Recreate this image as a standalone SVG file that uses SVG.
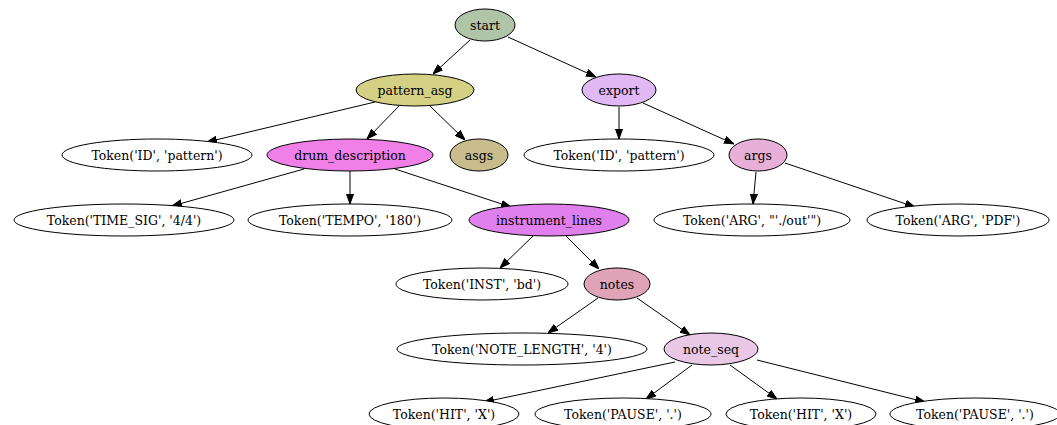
<svg xmlns="http://www.w3.org/2000/svg" width="1057" height="425" viewBox="0 0 1057 425">
<style>
.n ellipse{stroke:#000;stroke-width:1}
.n text{font-family:"DejaVu Serif",serif;font-size:12.5px;text-anchor:middle;dominant-baseline:central;fill:#000}
.e line{stroke:#000;stroke-width:1;marker-end:url(#ah)}
</style>
<defs>
<marker id="ah" markerUnits="userSpaceOnUse" markerWidth="10" markerHeight="8" refX="10" refY="3.5" orient="auto" viewBox="0 0 10 7">
<path d="M0,0 L10,3.5 L0,7 z" fill="#000" stroke="#000"/>
</marker>
</defs>
<rect width="1057" height="425" fill="#fff"/>
<g id="edges" class="e">
<line x1="470" y1="40" x2="433" y2="74"/>
<line x1="508" y1="37" x2="596" y2="77"/>
<line x1="375" y1="102" x2="207" y2="142"/>
<line x1="399" y1="106" x2="367" y2="139"/>
<line x1="430" y1="106" x2="465" y2="140"/>
<line x1="619" y1="107" x2="619" y2="139"/>
<line x1="643" y1="103" x2="734" y2="144"/>
<line x1="304" y1="169" x2="172" y2="206"/>
<line x1="350" y1="171" x2="350" y2="204"/>
<line x1="395" y1="169" x2="511" y2="207"/>
<line x1="756" y1="172" x2="753" y2="204"/>
<line x1="785" y1="163" x2="915" y2="207"/>
<line x1="533" y1="236" x2="500" y2="268"/>
<line x1="566" y1="236" x2="599" y2="269"/>
<line x1="598" y1="298" x2="548" y2="333"/>
<line x1="637" y1="298" x2="690" y2="335"/>
<line x1="675" y1="362" x2="484" y2="402"/>
<line x1="692" y1="365" x2="646" y2="399"/>
<line x1="730" y1="365" x2="777" y2="399"/>
<line x1="757" y1="360" x2="925" y2="402"/>
</g>
<g id="start" class="n"><ellipse cx="485" cy="25" rx="30" ry="16" fill="#b0c4a8"/><text x="485" y="25">start</text></g>
<g id="pattern_asg" class="n"><ellipse cx="415" cy="90" rx="59" ry="16" fill="#d4d184"/><text x="415" y="90">pattern_asg</text></g>
<g id="export" class="n"><ellipse cx="619" cy="90" rx="37" ry="16" fill="#e0b8f4"/><text x="619" y="90">export</text></g>
<g id="tok_id_1" class="n"><ellipse cx="157" cy="155" rx="95" ry="16" fill="#fff"/><text x="157" y="155">Token('ID', 'pattern')</text></g>
<g id="drum_description" class="n"><ellipse cx="350" cy="155" rx="83" ry="16" fill="#f080e8"/><text x="350" y="155">drum_description</text></g>
<g id="asgs" class="n"><ellipse cx="479" cy="155" rx="29" ry="16" fill="#c8bc8c"/><text x="479" y="155">asgs</text></g>
<g id="tok_id_2" class="n"><ellipse cx="619" cy="155" rx="95" ry="16" fill="#fff"/><text x="619" y="155">Token('ID', 'pattern')</text></g>
<g id="args" class="n"><ellipse cx="758" cy="155" rx="29" ry="16" fill="#e8b0d8"/><text x="758" y="155">args</text></g>
<g id="tok_timesig" class="n"><ellipse cx="124" cy="220" rx="110" ry="16" fill="#fff"/><text x="124" y="220">Token('TIME_SIG', '4/4')</text></g>
<g id="tok_tempo" class="n"><ellipse cx="350" cy="220" rx="102" ry="16" fill="#fff"/><text x="350" y="220">Token('TEMPO', '180')</text></g>
<g id="instrument_lines" class="n"><ellipse cx="549" cy="220" rx="80" ry="16" fill="#e080ec"/><text x="549" y="220">instrument_lines</text></g>
<g id="tok_arg_out" class="n"><ellipse cx="752" cy="220" rx="98" ry="16" fill="#fff"/><text x="752" y="220">Token('ARG', "'./out'")</text></g>
<g id="tok_arg_pdf" class="n"><ellipse cx="958" cy="220" rx="91" ry="16" fill="#fff"/><text x="958" y="220">Token('ARG', 'PDF')</text></g>
<g id="tok_inst" class="n"><ellipse cx="482" cy="284" rx="86" ry="16" fill="#fff"/><text x="482" y="284">Token('INST', 'bd')</text></g>
<g id="notes" class="n"><ellipse cx="617" cy="284" rx="33" ry="16" fill="#e0a4b8"/><text x="617" y="284">notes</text></g>
<g id="tok_notelen" class="n"><ellipse cx="522" cy="349" rx="125" ry="16" fill="#fff"/><text x="522" y="349">Token('NOTE_LENGTH', '4')</text></g>
<g id="note_seq" class="n"><ellipse cx="711" cy="349" rx="47" ry="16" fill="#e8c8e4"/><text x="711" y="349">note_seq</text></g>
<g id="tok_hit_1" class="n"><ellipse cx="444" cy="414" rx="75" ry="16" fill="#fff"/><text x="444" y="414">Token('HIT', 'X')</text></g>
<g id="tok_pause_1" class="n"><ellipse cx="623" cy="414" rx="88" ry="16" fill="#fff"/><text x="623" y="414">Token('PAUSE', '.')</text></g>
<g id="tok_hit_2" class="n"><ellipse cx="801" cy="414" rx="75" ry="16" fill="#fff"/><text x="801" y="414">Token('HIT', 'X')</text></g>
<g id="tok_pause_2" class="n"><ellipse cx="975" cy="414" rx="85" ry="16" fill="#fff"/><text x="975" y="414">Token('PAUSE', '.')</text></g>
</svg>
